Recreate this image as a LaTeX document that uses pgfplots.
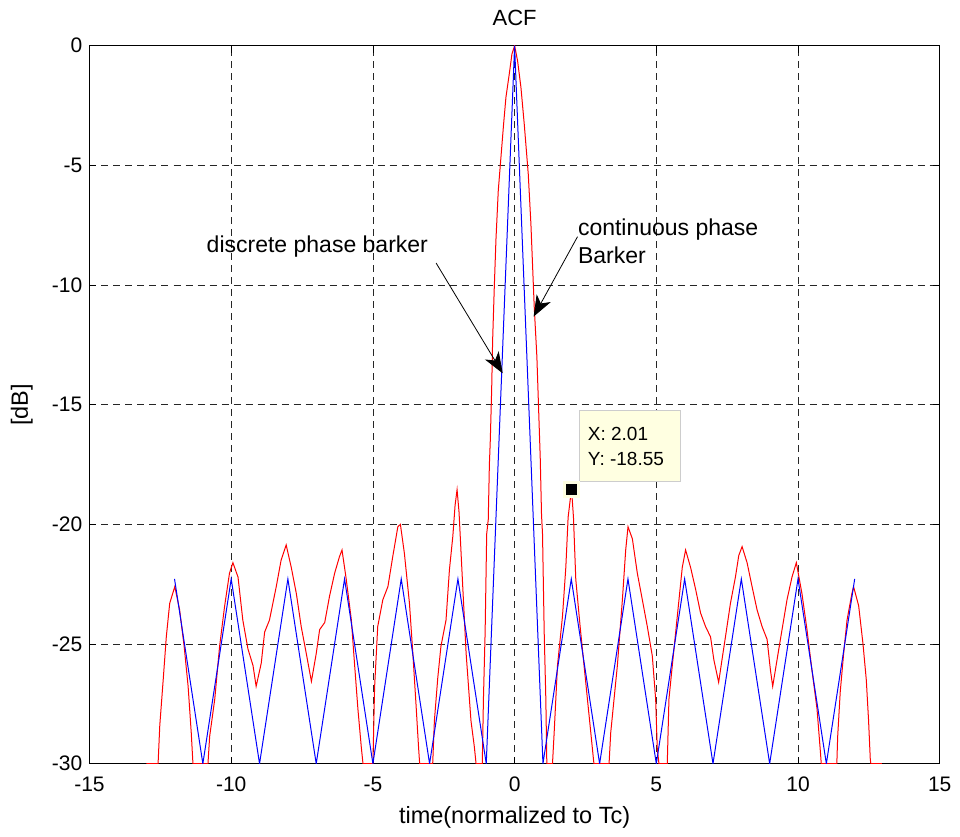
\documentclass[border=0pt]{standalone}
\usepackage{fontspec}
\setmainfont{Liberation Sans}
\usepackage{pgfplots}
\pgfplotsset{compat=1.18}
\usetikzlibrary{arrows.meta}
\definecolor{tipbg}{RGB}{255,255,225}
\definecolor{tipedge}{RGB}{205,205,205}
\begin{document}
\begin{tikzpicture}
\begin{axis}[
 at={(0pt,0pt)}, anchor=south west,
 scale only axis, width=850.2pt, height=718pt,
 xmin=-15, xmax=15, ymin=-30, ymax=0,
 xtick={-15,-10,...,15}, xticklabels={-15,-10,-5,0,5,10,15},
 ytick={-30,-25,...,0}, yticklabels={-30,-25,-20,-15,-10,-5,0},
 tick align=inside, major tick length=7pt,
 tick style={black, line width=0.6pt},
 grid=major, grid style={black!85, line width=0.6pt, dash pattern=on 7pt off 5pt},
 axis line style={black, line width=0.8pt},
 ticklabel style={font=\fontsize{21}{24}\selectfont},
 xticklabel style={anchor=north, inner sep=0pt, yshift=-13pt},
 yticklabel style={anchor=east, inner sep=0pt, xshift=-7pt},
 title={ACF},
 title style={font=\fontsize{22}{26}\selectfont, at={(axis description cs:0.5,1.0196)}, anchor=base, inner sep=0pt},
 xlabel={time(normalized to Tc)},
 xlabel style={font=\fontsize{23.5}{26}\selectfont, at={(axis description cs:0.5,-0.0826)}, anchor=base, inner sep=0pt},
 ylabel={[dB]},
 ylabel style={font=\fontsize{23.5}{26}\selectfont, at={(axis description cs:-0.0797,0.5)}, anchor=center, inner sep=0pt},
]
\addplot[red, line width=1pt] coordinates {
(-12.99,-30) (-12.58,-30) (-12.52,-28.4) (-12.40,-26.5) (-12.29,-24.7) (-12.17,-23.3)
(-11.99,-22.6) (-11.82,-23.57) (-11.66,-25.1) (-11.52,-26.77) (-11.41,-28.7) (-11.35,-30)
(-10.82,-30) (-10.76,-28.86) (-10.58,-27.3) (-10.41,-25.1) (-10.23,-23.4) (-10.06,-22.04)
(-9.94,-21.6) (-9.76,-22.2) (-9.59,-24.0) (-9.41,-25.2) (-9.23,-25.9) (-9.12,-26.77)
(-8.94,-25.8) (-8.82,-24.5) (-8.65,-24.0) (-8.41,-22.6) (-8.24,-21.5) (-8.06,-20.86)
(-7.88,-21.8) (-7.70,-22.9) (-7.53,-24.27) (-7.35,-25.4) (-7.17,-26.56) (-7.0,-25.4)
(-6.88,-24.4) (-6.70,-24.1) (-6.53,-23.0) (-6.35,-22.04) (-6.18,-21.35) (-6.09,-21.07)
(-5.94,-22.3) (-5.76,-24.0) (-5.65,-25.8) (-5.53,-27.7) (-5.41,-29.3) (-5.35,-30)
(-5.0,-30) (-4.94,-26.8) (-4.83,-24.27) (-4.65,-23.15) (-4.47,-22.6) (-4.30,-21.35)
(-4.12,-20.1) (-4.03,-20.0) (-3.89,-21.2) (-3.71,-23.3) (-3.59,-25.4) (-3.48,-27.5)
(-3.39,-29.3) (-3.35,-30) (-2.89,-30) (-2.83,-28.2) (-2.71,-26.4) (-2.60,-25.1)
(-2.42,-24.0) (-2.30,-21.9) (-2.18,-20.5) (-2.10,-19.2) (-2.03,-18.55) (-1.96,-19.5)
(-1.83,-22.6) (-1.71,-25.4) (-1.54,-28.2) (-1.42,-29.3) (-1.36,-30) (-1.14,-30)
(-1.10,-27.3) (-1.04,-24.5) (-0.985,-20.4) (-0.93,-19.8) (-0.89,-17.5) (-0.858,-16.5)
(-0.81,-14.4) (-0.775,-12.3) (-0.717,-10.1) (-0.658,-8.1) (-0.576,-6.05) (-0.482,-4.66)
(-0.388,-3.27) (-0.306,-2.16) (-0.188,-1.18) (-0.094,-0.35) (0,0) (0.105,-0.63)
(0.223,-1.74) (0.34,-3.27) (0.481,-5.35) (0.575,-7.44) (0.692,-10.9) (0.786,-13.0)
(0.845,-15.1) (0.904,-17.2) (0.95,-19.6) (0.985,-20.4) (1.044,-24.5) (1.102,-27.3)
(1.137,-30) (1.337,-30) (1.396,-28.7) (1.513,-25.9) (1.689,-23.85) (1.807,-21.8)
(1.889,-19.7) (1.959,-19.0) (2.01,-18.55) (2.077,-19.7) (2.159,-22.3) (2.312,-24.27)
(2.476,-26.2) (2.629,-28.0) (2.781,-29.8) (2.80,-30) (3.333,-30) (3.392,-28.7)
(3.626,-25.9) (3.803,-23.15) (3.92,-21.07) (4.002,-20.1) (4.155,-20.6) (4.33,-22.04)
(4.507,-23.15) (4.683,-24.27) (4.859,-25.5) (4.977,-27.3) (5.035,-29.4) (5.094,-30)
(5.387,-30) (5.446,-27.3) (5.564,-25.9) (5.74,-23.85) (5.916,-21.8) (6.033,-21.07)
(6.21,-21.8) (6.385,-22.7) (6.561,-23.7) (6.738,-24.27) (6.914,-24.7) (7.031,-25.66)
(7.2,-26.6) (7.325,-25.6) (7.44,-24.7) (7.616,-23.3) (7.792,-22.2) (7.91,-21.3)
(8.027,-20.93) (8.203,-21.6) (8.379,-22.6) (8.555,-23.57) (8.732,-24.27) (8.908,-24.8)
(9.025,-26.07) (9.107,-26.77) (9.26,-25.66) (9.436,-24.4) (9.612,-23.15) (9.788,-22.2)
(9.941,-21.6) (10.14,-22.9) (10.317,-24.4) (10.49,-26.07) (10.67,-27.7) (10.79,-29.5)
(10.82,-30) (11.37,-30) (11.40,-28.86) (11.49,-27.0) (11.61,-25.4) (11.73,-24.0)
(11.90,-22.9) (11.96,-22.6) (12.14,-23.4) (12.29,-24.96) (12.41,-26.5) (12.49,-28.2)
(12.55,-29.8) (12.57,-30) (12.96,-30)
};
\addplot[blue, line width=1pt] coordinates {
(-12,-22.28) (-11,-30) (-10,-22.28) (-9,-30) (-8,-22.28) (-7,-30) (-6,-22.28)
(-5,-30) (-4,-22.28) (-3,-30) (-2,-22.28) (-1,-30) (0,0) (1,-30) (2,-22.28)
(3,-30) (4,-22.28) (5,-30) (6,-22.28) (7,-30) (8,-22.28) (9,-30) (10,-22.28)
(11,-30) (12,-22.28)
};
\addplot[only marks, mark=square*, mark size=7pt, mark options={fill=black, draw=tipbg, line width=2.5pt}] coordinates {(2.01,-18.55)};
\draw[tipedge, fill=tipbg, line width=0.8pt] (axis cs:2.275,-15.22) rectangle (axis cs:5.856,-18.22);
\node[anchor=base west, inner sep=0pt, font=\fontsize{19}{22}\selectfont] at (axis cs:2.58,-16.48) {X: 2.01};
\node[anchor=base west, inner sep=0pt, font=\fontsize{19}{22}\selectfont] at (axis cs:2.58,-17.56) {Y: -18.55};
\draw[-{Stealth[length=21pt,width=16pt,inset=6pt]}, line width=0.8pt] (axis cs:-2.77,-9.08) -- (axis cs:-0.42,-13.69);
\draw[-{Stealth[length=21pt,width=16pt,inset=6pt]}, line width=0.8pt] (axis cs:2.22,-7.98) -- (axis cs:0.67,-11.32);
\node[anchor=base west, inner sep=0pt, font=\fontsize{23}{26}\selectfont] at (axis cs:-10.87,-8.62) {discrete phase barker};
\node[anchor=base west, inner sep=0pt, font=\fontsize{23}{26}\selectfont] at (axis cs:2.23,-7.91) {continuous phase};
\node[anchor=base west, inner sep=0pt, font=\fontsize{23}{26}\selectfont] at (axis cs:2.23,-9.09) {Barker};
\end{axis}
\path (-89.5pt,-72.3pt) rectangle (870.5pt,763.7pt);
\end{tikzpicture}
\end{document}
